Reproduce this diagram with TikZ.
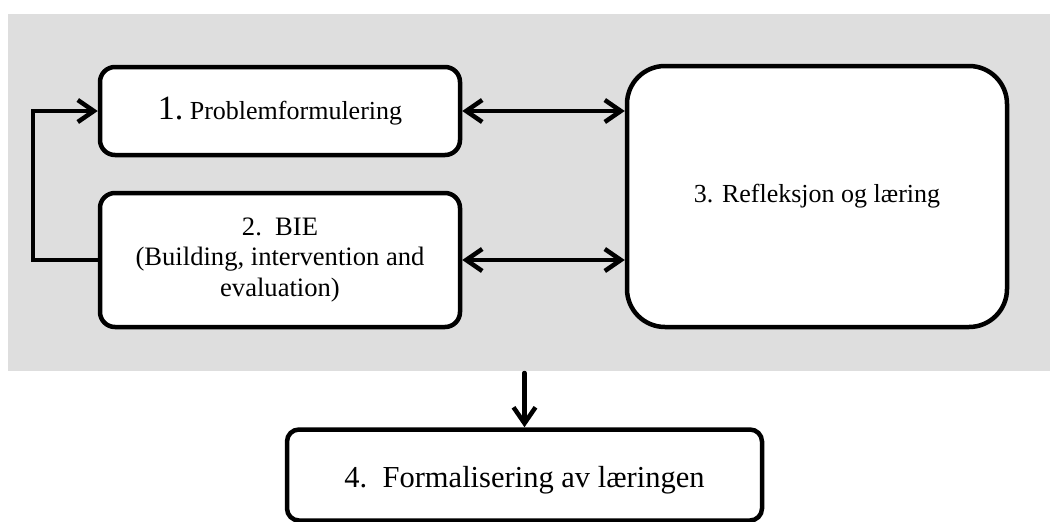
\documentclass[tikz,border=0pt]{standalone}
\usepackage{fontspec}
\setmainfont{Liberation Serif}
\usetikzlibrary{arrows.meta}
\definecolor{panelgray}{RGB}{222,222,222}

\begin{document}
\begin{tikzpicture}[x=1pt,y=-1pt,
  box/.style={rectangle,draw,line width=4.5pt,fill=white,align=center,inner sep=0pt},
  conn/.style={line width=4.5pt,line cap=round,-{Straight Barb[length=16pt,width=22pt]}},
  biconn/.style={line width=4.5pt,line cap=round,{Straight Barb[length=16pt,width=22pt]}-{Straight Barb[length=16pt,width=22pt]}}]
\useasboundingbox (0,0) rectangle (1050,522);
\fill [panelgray] (8,14) rectangle (1050,371);

\node [box,rounded corners=15pt,minimum width=360pt,minimum height=88pt] (prob) at (280,111)
  {\fontsize{34}{38}\selectfont 1.\fontsize{26}{30}\selectfont\ Problemformulering};
\node [box,rounded corners=15pt,minimum width=360pt,minimum height=134pt,
  font=\fontsize{26.6}{30.5}\selectfont] (bie) at (280,260)
  {2.\ \ BIE\\(Building, intervention and\\evaluation)};
\node [box,rounded corners=38pt,minimum width=380pt,minimum height=261pt,
  font=\fontsize{26}{30}\selectfont] (refl) at (817,196.5)
  {3. Refleksjon og l\ae ring};
\node [box,rounded corners=12pt,minimum width=475pt,minimum height=91pt,
  text height=31pt,text depth=7pt,
  font=\fontsize{30.5}{34}\selectfont] (form) at (524.5,475)
  {4.\ \ Formalisering av l\ae ringen};

\coordinate (loop) at (33,260);
\coordinate (out) at (524.5,373);

\draw [biconn] (prob.east) -- (refl.west |- prob.east);
\draw [biconn] (bie.east) -- (refl.west |- bie.east);
\draw [conn] (bie.west) -- (loop) |- (prob.west);
\draw [conn] (out) -- (form.north);

\end{tikzpicture}
\end{document}
